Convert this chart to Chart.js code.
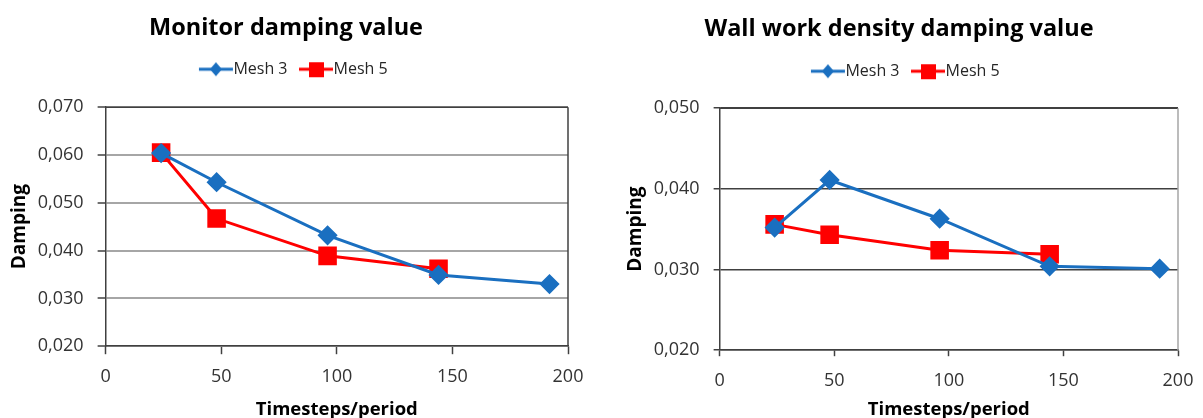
<!DOCTYPE html>
<html>
<head>
<meta charset="utf-8">
<script src="https://cdn.jsdelivr.net/npm/chart.js@4/dist/chart.umd.min.js"></script>
<style>
  html, body { margin: 0; padding: 0; background: #ffffff; }
  .wrap { position: absolute; top: 0; height: 418px; }
  #left { left: 0; width: 600px; }
  #right { left: 600px; width: 603px; }
</style>
</head>
<body>
<div class="wrap" id="left"><canvas id="monitorChart"></canvas></div>
<div class="wrap" id="right"><canvas id="wallChart"></canvas></div>
<script>
// timesteps per period
const stepsMesh3 = [24, 48, 96, 144, 192];
const stepsMesh5 = [24, 48, 96, 144];

// monitor damping value
const monitorMesh3 = [0.0604, 0.0543, 0.0432, 0.0349, 0.0330];
const monitorMesh5 = [0.0605, 0.0467, 0.0389, 0.0362];

// wall work density damping value
const wallMesh3 = [0.0352, 0.0411, 0.0363, 0.0304, 0.0301];
const wallMesh5 = [0.0356, 0.0343, 0.0324, 0.0319];

const seriesNames = ['Mesh 3', 'Mesh 5'];
const xTicks = [0, 50, 100, 150, 200];

const blue = '#1a6fc0';
const red = '#ff0000';
const fontFam = "'Open Sans', 'Liberation Sans', sans-serif";

function toPoints(xs, ys) {
    return xs.map((x, i) => ({ x: x, y: ys[i] }));
}

// legend symbol: short line with the marker on it
function legendIcon(color, shape) {
    const c = document.createElement('canvas');
    c.width = 36;
    c.height = 18;
    const g = c.getContext('2d');
    g.strokeStyle = color;
    g.lineWidth = 3;
    g.beginPath();
    g.moveTo(1, 9);
    g.lineTo(35, 9);
    g.stroke();
    g.fillStyle = color;
    if (shape === 'diamond') {
        g.beginPath();
        g.moveTo(18, 2);
        g.lineTo(24, 9);
        g.lineTo(18, 16);
        g.lineTo(12, 9);
        g.closePath();
        g.fill();
    } else {
        g.fillRect(11, 2, 15, 15);
    }
    return c;
}

const boxBorder = {
    id: 'boxBorder',
    afterDraw(chart, args, opts) {
        const a = chart.chartArea;
        const ctx = chart.ctx;
        ctx.save();
        ctx.lineWidth = 1.5;
        ctx.strokeStyle = '#404040';
        ctx.beginPath();
        ctx.moveTo(a.left, a.top);
        ctx.lineTo(a.right, a.top);
        ctx.stroke();
        ctx.strokeStyle = opts.sideColor;
        ctx.beginPath();
        ctx.moveTo(a.right, a.top);
        ctx.lineTo(a.right, a.bottom);
        ctx.stroke();
        ctx.restore();
    }
};

// extra room under the legend, and nudge it sideways
const legendSpace = {
    id: 'legendSpace',
    beforeLayout(chart, args, opts) {
        const lg = chart.legend;
        if (lg && !lg._spaced) {
            const fit = lg.fit;
            const draw = lg.draw;
            lg.fit = function () {
                fit.call(this);
                this.height += opts.extra;
            };
            lg.draw = function () {
                const c = this.ctx;
                c.save();
                c.translate(opts.shift, 0);
                draw.call(this);
                c.restore();
            };
            lg._spaced = true;
        }
    }
};

function makeChart(id, title, m3, m5, cfg) {
    const ctx = document.getElementById(id).getContext('2d');
    return new Chart(ctx, {
        type: 'line',
        data: {
            datasets: [{
                label: seriesNames[0],
                data: toPoints(stepsMesh3, m3),
                borderColor: blue,
                backgroundColor: blue,
                borderWidth: 3,
                pointStyle: 'rectRot',
                pointRadius: 8,
                pointHoverRadius: 8,
                fill: false,
                tension: 0
            }, {
                label: seriesNames[1],
                data: toPoints(stepsMesh5, m5),
                borderColor: red,
                backgroundColor: red,
                borderWidth: 3,
                pointStyle: 'rect',
                pointRadius: 11,
                pointHoverRadius: 11,
                fill: false,
                tension: 0
            }]
        },
        options: {
            responsive: true,
            maintainAspectRatio: false,
            animation: false,
            layout: { padding: cfg.pad },
            plugins: {
                title: {
                    display: true,
                    text: title,
                    color: '#000000',
                    font: { family: fontFam, size: 23.5, weight: 'bold' },
                    padding: { top: 0, bottom: cfg.titleGap }
                },
                legend: {
                    labels: {
                        usePointStyle: true,
                        pointStyleWidth: 19,
                        color: '#262626',
                        font: { family: fontFam, size: 16 },
                        padding: 19,
                        generateLabels(chart) {
                            return chart.data.datasets.map((ds, i) => ({
                                text: ds.label,
                                fillStyle: ds.borderColor,
                                strokeStyle: ds.borderColor,
                                lineWidth: 0,
                                pointStyle: legendIcon(ds.borderColor, i === 0 ? 'diamond' : 'square'),
                                datasetIndex: i,
                                fontColor: '#262626'
                            }));
                        }
                    }
                },
                legendSpace: { extra: cfg.legendExtra, shift: cfg.legendShift },
                tooltip: { enabled: false },
                boxBorder: { sideColor: cfg.sideColor }
            },
            scales: {
                x: {
                    type: 'linear',
                    min: 0,
                    max: 200,
                    afterBuildTicks(axis) {
                        axis.ticks = xTicks.map(v => ({ value: v }));
                    },
                    afterFit(axis) {
                        axis.paddingLeft = 0;
                        axis.paddingRight = 0;
                    },
                    title: {
                        display: true,
                        text: 'Timesteps/period',
                        color: '#000000',
                        font: { family: fontFam, size: 18.5, weight: 'bold' },
                        padding: { top: cfg.xTitleTop, bottom: -3 }
                    },
                    ticks: {
                        color: '#333333',
                        font: { family: fontFam, size: 18 },
                        padding: cfg.xTickPad
                    },
                    grid: {
                        drawOnChartArea: false,
                        drawTicks: true,
                        tickLength: cfg.tick,
                        tickColor: '#404040',
                        tickWidth: 1.5
                    },
                    border: { color: '#404040', width: 1.5 }
                },
                y: {
                    min: cfg.yMin,
                    max: cfg.yMax,
                    ticks: {
                        stepSize: 0.01,
                        color: '#333333',
                        font: { family: fontFam, size: 18 },
                        padding: 14,
                        callback: v => v.toFixed(3).replace('.', ',')
                    },
                    title: {
                        display: true,
                        text: 'Damping',
                        color: '#000000',
                        font: { family: fontFam, size: 19, weight: 'bold' },
                        padding: { top: cfg.yTitleTop, bottom: cfg.yTitleBottom }
                    },
                    grid: {
                        color: cfg.gridColor,
                        lineWidth: cfg.gridWidth,
                        drawTicks: true,
                        tickLength: cfg.tick,
                        tickColor: '#404040',
                        tickWidth: 1.5
                    },
                    border: { color: '#404040', width: 1.5 }
                }
            }
        },
        plugins: [boxBorder, legendSpace]
    });
}

makeChart('monitorChart', 'Monitor damping value', monitorMesh3, monitorMesh5, {
    yMin: 0.02, yMax: 0.07,
    gridColor: '#a6a6a6', gridWidth: 2, sideColor: '#404040',
    pad: { left: 4, right: 32, top: 14, bottom: 0 },
    titleGap: 0, legendExtra: 20, legendShift: 11,
    tick: 8, xTickPad: 12, xTitleTop: -1,
    yTitleTop: 4, yTitleBottom: -7
});
makeChart('wallChart', 'Wall work density damping value', wallMesh3, wallMesh5, {
    yMin: 0.02, yMax: 0.05,
    gridColor: '#404040', gridWidth: 1.5, sideColor: '#a6a6a6',
    pad: { left: 20, right: 25, top: 15, bottom: 0 },
    titleGap: 1, legendExtra: 19, legendShift: 10,
    tick: 6, xTickPad: 14, xTitleTop: -7,
    yTitleTop: 4, yTitleBottom: -7
});
</script>
</body>
</html>
